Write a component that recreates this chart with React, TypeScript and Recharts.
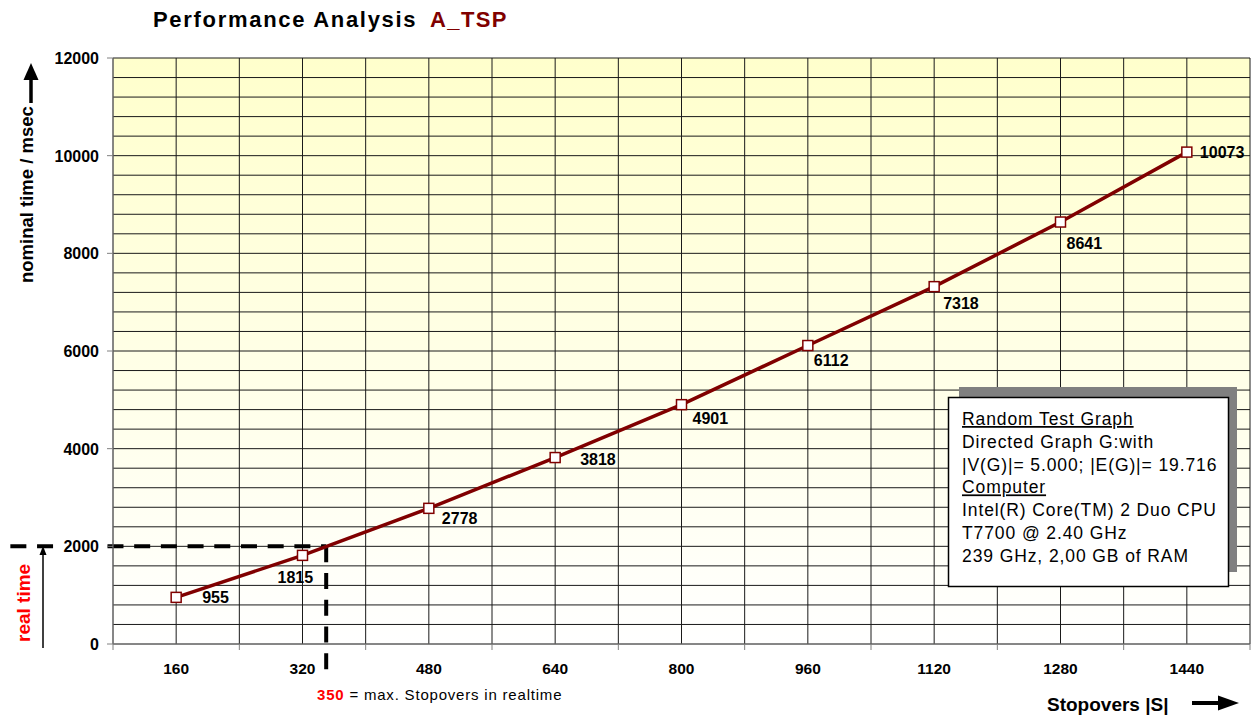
import React from "react";
import {
  LineChart,
  Line,
  XAxis,
  YAxis,
  CartesianGrid,
  ReferenceLine,
  LabelList,
} from "recharts";

// measured run times of A_TSP per number of stopovers
const STOPOVERS = [160, 320, 480, 640, 800, 960, 1120, 1280, 1440];
const TIME_MS = [955, 1815, 2778, 3818, 4901, 6112, 7318, 8641, 10073];

// axis grid (every half category on x, every 400 ms on y)
const X_GRID = [
  80, 160, 240, 320, 400, 480, 560, 640, 720, 800, 880, 960, 1040, 1120, 1200,
  1280, 1360, 1440, 1520,
];
const Y_GRID = [
  0, 400, 800, 1200, 1600, 2000, 2400, 2800, 3200, 3600, 4000, 4400, 4800, 5200,
  5600, 6000, 6400, 6800, 7200, 7600, 8000, 8400, 8800, 9200, 9600, 10000,
  10400, 10800, 11200, 11600, 12000,
];
const Y_LABELS = [0, 2000, 4000, 6000, 8000, 10000, 12000];

const REALTIME_MS = 2000;
const REALTIME_STOPOVERS = 350;

const BOX_LINES = [
  { text: "Random Test Graph", underline: true },
  { text: "Directed Graph G:with", underline: false },
  { text: "|V(G)|= 5.000; |E(G)|= 19.716", underline: false },
  { text: "Computer", underline: true },
  { text: "Intel(R) Core(TM) 2 Duo CPU", underline: false },
  { text: "T7700 @ 2.40 GHz", underline: false },
  { text: "239 GHz, 2,00 GB of RAM", underline: false },
];

// label placement next to each point, [dx, dy of text centre]
const LABEL_OFFSETS = [
  [26, 0],
  [-25, 22],
  [13, 10],
  [25, 2],
  [11, 14],
  [6, 15],
  [9, 17],
  [6, 21],
  [13, 0],
];

const data = STOPOVERS.map((s, i) => ({ s, t: TIME_MS[i] }));

const FONT = "'Liberation Sans', Arial, sans-serif";
const RED = "#800000";

const XTick = ({ x, y, payload }: any) => {
  const v = payload.value;
  if (STOPOVERS.includes(v)) {
    return (
      <text x={x} y={y + 30} textAnchor="middle" fontFamily={FONT} fontSize={15.5} fontWeight="bold" fill="#000">
        {v}
      </text>
    );
  }
  return <line x1={x} x2={x} y1={y} y2={y + 6} stroke="#808080" />;
};

const YTick = ({ x, y, payload }: any) => {
  const v = payload.value;
  if (!Y_LABELS.includes(v)) return <g />;
  return (
    <g>
      <line x1={x - 6} x2={x} y1={y} y2={y} stroke="#808080" />
      <text x={x - 14} y={y + 6} textAnchor="end" fontFamily={FONT} fontSize={16} fontWeight="bold" fill="#000">
        {v}
      </text>
    </g>
  );
};

const SquareDot = (props: any) => {
  const { cx, cy, index } = props;
  return (
    <rect key={index} x={cx - 5} y={cy - 5} width={10} height={10} fill="#fff" stroke={RED} strokeWidth={1.5} />
  );
};

const PointLabel = (props: any) => {
  const { x, y, value, index } = props;
  const [dx, dy] = LABEL_OFFSETS[index] || [8, 12];
  return (
    <text x={x + dx} y={y + dy + 5.8} fontFamily={FONT} fontSize={16} fontWeight="bold" fill="#000">
      {value}
    </text>
  );
};

const DASH = { stroke: "#000", strokeWidth: 4, strokeDasharray: "16 10.7" };

export default function App() {
  return (
    <div style={{ position: "absolute", left: 0, top: 0, width: 1260, height: 719, background: "#fff" }}>
      <LineChart width={1260} height={719} data={data} margin={{ top: 58, right: 10, bottom: 35, left: 53 }}>
        <defs>
          <linearGradient id="bg" x1="0" y1="0" x2="0" y2="1">
            <stop offset="0%" stopColor="#FFFFCC" />
            <stop offset="100%" stopColor="#FFFFFF" />
          </linearGradient>
        </defs>
        <CartesianGrid stroke="#1a1a1a" fill="url(#bg)" fillOpacity={1} />
        <XAxis
          type="number"
          dataKey="s"
          domain={[80, 1520]}
          ticks={X_GRID}
          interval={0}
          height={40}
          tickSize={0}
          tickMargin={0}
          tickLine={false}
          axisLine={{ stroke: "#808080" }}
          tick={<XTick />}
        />
        <YAxis
          type="number"
          domain={[0, 12000]}
          ticks={Y_GRID}
          interval={0}
          width={60}
          tickSize={0}
          tickMargin={0}
          tickLine={false}
          axisLine={{ stroke: "#808080" }}
          tick={<YTick />}
        />
        {/* realtime limit: dashed line, interrupted behind the 2000 tick label */}
        <ReferenceLine
          segment={[
            { x: -50, y: REALTIME_MS },
            { x: 5, y: REALTIME_MS },
          ]}
          ifOverflow="visible"
          {...DASH}
        />
        <ReferenceLine
          segment={[
            { x: 73, y: REALTIME_MS },
            { x: REALTIME_STOPOVERS, y: REALTIME_MS },
          ]}
          ifOverflow="visible"
          {...DASH}
        />
        <ReferenceLine
          segment={[
            { x: REALTIME_STOPOVERS, y: REALTIME_MS },
            { x: REALTIME_STOPOVERS, y: -530 },
          ]}
          ifOverflow="visible"
          {...DASH}
        />
        <Line
          type="linear"
          dataKey="t"
          stroke={RED}
          strokeWidth={3.5}
          dot={SquareDot}
          activeDot={false}
          isAnimationActive={false}
        >
          <LabelList dataKey="t" content={PointLabel} />
        </Line>
      </LineChart>

      <svg width={1260} height={719} style={{ position: "absolute", left: 0, top: 0, pointerEvents: "none" }}>
        {/* title */}
        <text x={153} y={27} fontFamily={FONT} fontSize={22} fontWeight="bold" letterSpacing={1.7} fill="#000">
          Performance Analysis
        </text>
        <text x={430} y={27} fontFamily={FONT} fontSize={22} fontWeight="bold" letterSpacing={1.4} fill={RED}>
          A_TSP
        </text>

        {/* y axis title */}
        <text
          transform="translate(33,283) rotate(-90)"
          fontFamily={FONT}
          fontSize={18.5}
          fontWeight="bold"
          fill="#000"
        >
          nominal time / msec
        </text>
        <line x1={31} x2={31} y1={103} y2={78} stroke="#000" strokeWidth={3.5} />
        <polygon points="31,63 23.5,80 38.5,80" fill="#000" />

        {/* real time marker */}
        <text
          transform="translate(30,642) rotate(-90)"
          fontFamily={FONT}
          fontSize={19}
          fontWeight="bold"
          fill="#FF0000"
        >
          real time
        </text>
        <line x1={43} x2={43} y1={648} y2={553} stroke="#000" strokeWidth={1.5} />
        <polygon points="43,546 39.5,555 46.5,555" fill="#000" />

        {/* x axis title */}
        <text x={1047} y={711} fontFamily={FONT} fontSize={19} fontWeight="bold" fill="#000">
          Stopovers |S|
        </text>
        <line x1={1192} x2={1222} y1={703} y2={703} stroke="#000" strokeWidth={4} />
        <polygon points="1239,703 1218,695.5 1218,710.5" fill="#000" />

        {/* realtime note */}
        <text x={317} y={700} fontFamily={FONT} fontSize={15} letterSpacing={0.8} fill="#000">
          <tspan fill="#FF0000" fontWeight="bold">
            {REALTIME_STOPOVERS}
          </tspan>
          <tspan> = max. Stopovers in realtime</tspan>
        </text>

        {/* info box */}
        <rect x={959} y={387} width={278} height={185} fill="#808080" />
        <rect x={948.5} y={397.5} width={280} height={189} fill="#fff" stroke="#000" strokeWidth={1.5} />
        {BOX_LINES.map((l, i) => (
          <text
            key={i}
            x={962}
            y={425 + i * 22.8}
            fontFamily={FONT}
            fontSize={17.5}
            letterSpacing={0.9}
            fill="#000"
            textDecoration={l.underline ? "underline" : undefined}
          >
            {l.text}
          </text>
        ))}
      </svg>
    </div>
  );
}
